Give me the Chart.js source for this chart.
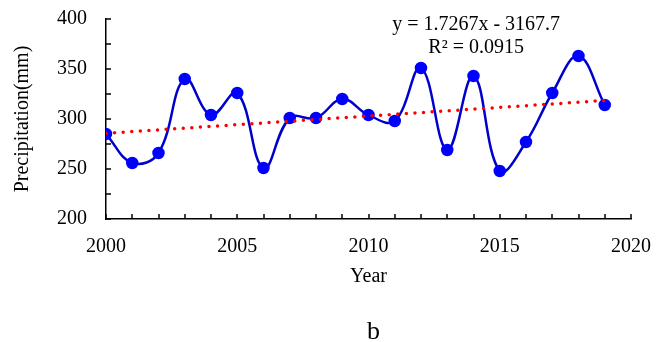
<!DOCTYPE html>
<html><head><meta charset="utf-8">
<script src="https://cdn.jsdelivr.net/npm/chart.js@4"></script>
<style>html,body{margin:0;padding:0;background:#fff}#wrap{width:662px;height:342px}</style>
</head><body><div id="wrap"><canvas id="c"></canvas></div>
<script>
const years = [2000,2001,2002,2003,2004,2005,2006,2007,2008,2009,2010,2011,2012,2013,2014,2015,2016,2017,2018,2019];
const precipitation = [285,256,266,340,304,326,251,301,301,320,304,298,351,269,343,248,277,326,363,314];
const trendSlope = 1.7267;
const trendIntercept = -3167.7;
const trendYears = [2000, 2019];
const equationLines = ['y = 1.7267x - 3167.7', 'R\u00b2 = 0.0915'];
const panelLabel = 'b';

const FONT = "'Liberation Serif', 'Times New Roman', serif";
const mainData = years.map((y,i)=>({x:y, y:precipitation[i]}));
const trendData = trendYears.map(y=>({x:y, y:trendSlope*y+trendIntercept}));

const inwardTicks = {
  id:'inwardTicks',
  afterDraw(chart){
    const {ctx, scales:{x, y}} = chart;
    ctx.save();
    ctx.strokeStyle='#000'; ctx.lineWidth=1.5;
    const base = y.getPixelForValue(y.min);
    for(let v=x.min; v<=x.max; v+=1){
      const px = Math.round(x.getPixelForValue(v));
      ctx.beginPath(); ctx.moveTo(px, base); ctx.lineTo(px, base-5); ctx.stroke();
    }
    const left = x.getPixelForValue(x.min);
    for(let v=y.min; v<=y.max; v+=25){
      const py = Math.round(y.getPixelForValue(v));
      ctx.beginPath(); ctx.moveTo(left, py); ctx.lineTo(left+5, py); ctx.stroke();
    }
    // equation text
    ctx.fillStyle='#000';
    ctx.font = "20px " + FONT;
    ctx.textAlign='center'; ctx.textBaseline='middle';
    const ex = x.getPixelForValue(2014.1);
    ctx.fillText(equationLines[0], ex, 25);
    ctx.fillText(equationLines[1], ex, 48);
    // panel label
    ctx.font = "26px " + FONT;
    ctx.textBaseline='alphabetic';
    const ca = chart.chartArea;
    ctx.fillText(panelLabel, (ca.left+ca.right)/2 + 5, 339);
    ctx.restore();
  }
};

new Chart(document.getElementById('c'), {
  type:'line',
  data:{datasets:[
    {data:mainData, borderColor:'#0000CC', backgroundColor:'#0000CC', borderWidth:2.5,
     pointRadius:5, pointHoverRadius:5, pointBackgroundColor:'#0000FF', pointBorderColor:'#0000FF', tension:0.4, order:2},
    {data:trendData, borderColor:'#FF0000', borderWidth:3.5, borderDash:[0,8.6], borderCapStyle:'round',
     pointRadius:0, tension:0, order:1}
  ]},
  options:{
    responsive:true, maintainAspectRatio:false, animation:false,
    layout:{padding:{left:0, top:19, right:31, bottom:53}},
    plugins:{legend:{display:false}, tooltip:{enabled:false}},
    scales:{
      x:{type:'linear', min:2000, max:2020,
        afterFit(s){s.height=70; s.paddingLeft=0; s.paddingRight=0;},
        ticks:{stepSize:5, color:'#000', padding:16, maxRotation:0, font:{family:FONT, size:20},
          callback:(v)=>String(v)},
        grid:{display:true, drawOnChartArea:false, drawTicks:false},
        border:{display:true, color:'#000', width:1.5},
        title:{display:true, text:'Year', color:'#000', font:{family:FONT, size:20}, padding:{top:0,bottom:0}}
      },
      y:{min:200, max:400,
        afterFit(s){s.width=106; s.paddingTop=0; s.paddingBottom=0;},
        ticks:{stepSize:50, color:'#000', padding:19, font:{family:FONT, size:20}},
        grid:{display:true, drawOnChartArea:false, drawTicks:false},
        border:{display:true, color:'#000', width:1.5},
        title:{display:true, text:'Precipitation(mm)', color:'#000', font:{family:FONT, size:20}, padding:{top:11,bottom:0}}
      }
    }
  },
  plugins:[inwardTicks]
});
</script></body></html>
